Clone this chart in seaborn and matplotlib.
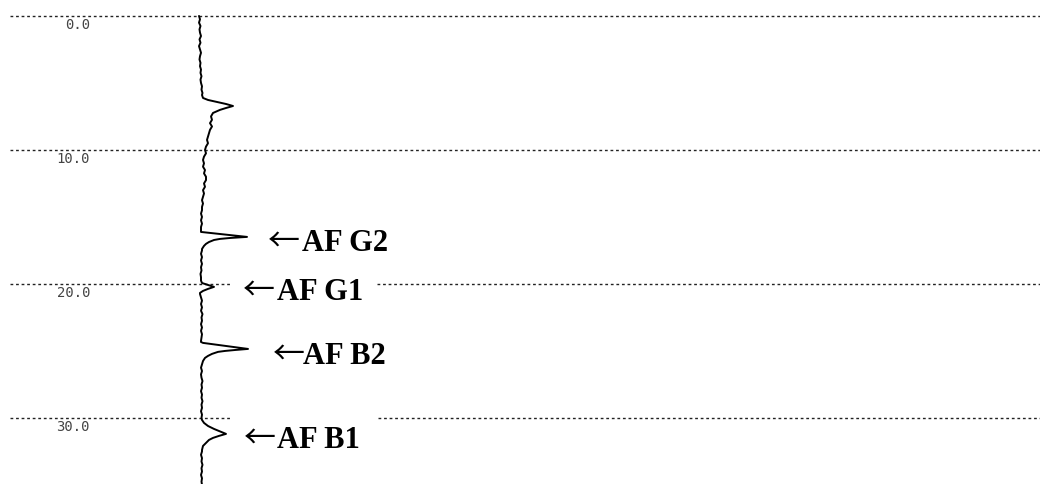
import matplotlib
matplotlib.use("Agg")
import matplotlib.pyplot as plt
import seaborn as sns
import pandas as pd

# retention time (min) and detector signal (arbitrary units, baseline = 0)
times = [0.0, 0.25, 0.5, 0.75, 1.0, 1.25, 1.5, 1.75, 2.0, 2.25, 2.5, 2.75,
         3.0, 3.25, 3.5, 3.75, 4.0, 4.25, 4.5, 4.75, 5.0, 5.25, 5.5, 5.75,
         5.90, 6.12, 6.27, 6.42, 6.57, 6.72, 6.87, 7.01,
         7.24, 7.5, 7.75, 8.0, 8.25, 8.5, 8.75, 9.0, 9.25, 9.5, 9.75, 10.0,
         10.25, 10.5, 10.75, 11.0, 11.25, 11.5, 11.75, 12.0, 12.25, 12.5, 12.75, 13.0,
         13.25, 13.5, 13.75, 14.0, 14.25, 14.5, 14.75, 15.0, 15.25, 15.5, 15.75, 16.0, 16.12,
         16.49, 16.57, 16.64, 16.72, 16.87, 17.01, 17.16, 17.39,
         17.5, 17.75, 18.0, 18.25, 18.5, 18.75, 19.0, 19.25, 19.5, 19.75, 19.93,
         20.22, 20.37, 20.52, 20.67,
         20.75, 21.0, 21.25, 21.5, 21.75, 22.0, 22.25, 22.5, 22.75, 23.0, 23.25, 23.5,
         23.75, 24.0, 24.25, 24.33,
         24.40, 24.85, 24.93, 25.00, 25.07, 25.22, 25.37, 25.52, 25.75,
         26.0, 26.25, 26.5, 26.75, 27.0, 27.25, 27.5, 27.75, 28.0, 28.25, 28.5, 28.75,
         29.0, 29.25, 29.5, 29.75, 30.0, 30.15,
         30.37, 30.60, 30.82, 31.04, 31.19, 31.34, 31.49, 31.64, 31.87, 32.09, 32.39,
         32.5, 32.75, 33.0, 33.25, 33.5, 33.75, 34.0, 34.25, 34.5, 34.75, 35.0]
signal = [-1, 0, -1, 0.5, -0.5, 0, 1, -0.5, 0.5, -1, 0, 1,
          0, -0.5, 0.5, 0, 1, 0.5, 1.5, 0.5, 1, 2, 1.5, 2.5,
          2, 3, 8, 17, 26, 33, 26, 20,
          13, 11, 12, 10, 12, 10, 9, 8, 7, 8, 6, 5,
          6, 4, 3, 4, 3, 5, 4, 6, 6, 4, 5, 3,
          4, 3, 2, 3, 2, 2, 1, 2, 1, 2, 1, 1, 1,
          47, 30, 20, 14, 9, 6, 4, 2,
          2, 1, 2, 1, 2, 1, 1.5, 0.5, 1, 1, 2,
          14, 8, 3, 0,
          0, 1, 2, 1, 2, 1, 2.5, 1.5, 2, 1, 2, 1,
          2, 1.5, 1, 1,
          3, 48, 35, 25, 18, 12, 8, 5, 3,
          2, 1, 2, 1, 1.5, 2.5, 1.5, 2, 1, 2, 1.5, 2.5,
          1.5, 2, 1, 2, 1.5, 2,
          4, 8, 14, 21, 26, 19, 13, 9, 6, 3, 2,
          2, 1, 2, 1.5, 2.5, 1.5, 2, 1, 2, 1.5, 2]
assert len(times) == len(signal)

grid_times = [0, 10, 20, 30]
grid_labels = ["0.0", "10.0", "20.0", "30.0"]

peak_names = ["AF G2", "AF G1", "AF B2", "AF B1"]
peak_label_time = [17.54, 21.19, 25.97, 32.24]
arrow_x = [68, 43, 73, 44]
label_x = [102, 77, 103, 77]

df = pd.DataFrame({"time": times, "signal": signal})

sns.set_style("white")
W, H = 1040, 484
fig = plt.figure(figsize=(W / 100, H / 100), dpi=100)
ax = fig.add_axes([0, 0, 1, 1])

# dotted time gridlines (interrupted where a peak label sits on them)
grid_gaps = {20: (230, 377), 30: (232, 378)}
dot = dict(color="#222222", lw=1.0, linestyle=(0, (2, 2)), zorder=1)
for t in grid_times:
    if t in grid_gaps:
        g0, g1 = grid_gaps[t]
        ax.axhline(t, xmin=10 / W, xmax=g0 / W, **dot)
        ax.axhline(t, xmin=g1 / W, xmax=1, **dot)
    else:
        ax.axhline(t, xmin=10 / W, xmax=1, **dot)

sns.lineplot(data=df, x="signal", y="time", orient="y", sort=False, estimator=None,
             color="black", lw=1.4, ax=ax, zorder=3)

ax.set_xlim(-200, 840)
ax.set_ylim(34.93, -1.19)
ax.axis("off")

for t, lab in zip(grid_times, grid_labels):
    ax.text(-110, t + 0.12, lab, ha="right", va="top", fontsize=10,
            family="DejaVu Sans Mono", color="#444444", zorder=2)

for name, t, xa, xl in zip(peak_names, peak_label_time, arrow_x, label_x):
    ax.text(xa, t, "\u2190", ha="left", va="baseline", fontsize=23,
            family=["Noto Sans CJK JP", "DejaVu Sans"], color="black", zorder=4)
    ax.text(xl, t, name, ha="left", va="baseline", fontsize=22, fontweight="bold",
            family=["Liberation Serif", "DejaVu Serif"], color="black", zorder=4)

fig.savefig("out.png", dpi=100)
